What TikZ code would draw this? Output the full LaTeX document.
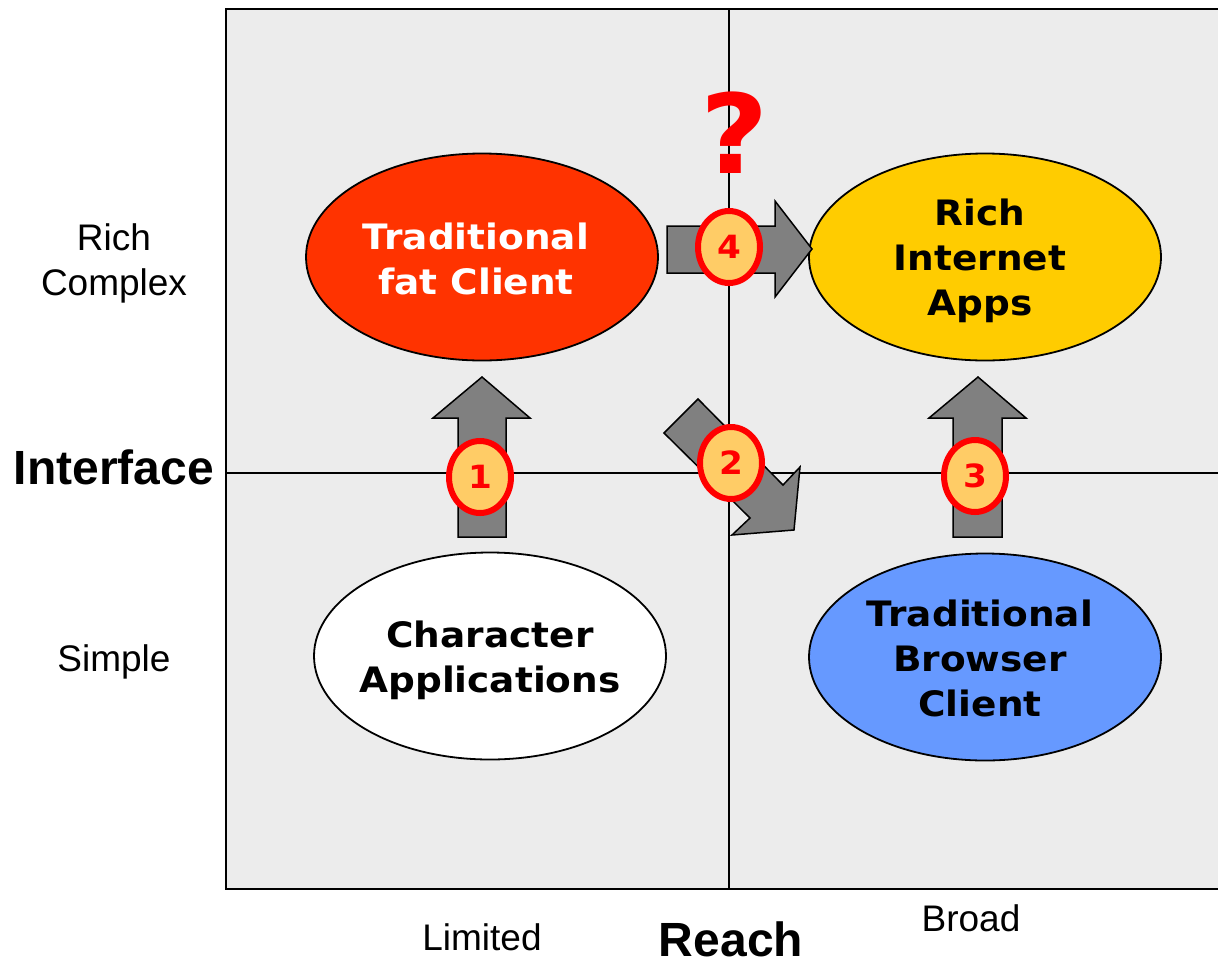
\documentclass[tikz,border=0pt]{standalone}
\usepackage{fontspec}
\setmainfont{Liberation Sans}
\newfontfamily\verd[FakeStretch=1.07]{DejaVu Sans}
\usetikzlibrary{shapes.geometric}
\definecolor{bgg}{HTML}{ECECEC}
\definecolor{fatred}{HTML}{FF3300}
\definecolor{riayel}{HTML}{FFCC00}
\definecolor{brblue}{HTML}{6699FF}
\definecolor{badgefill}{HTML}{FFCC66}
\definecolor{arrgray}{HTML}{808080}
\tikzset{
  bigell/.style={ellipse, draw=black, line width=1.8pt, minimum width=352pt, minimum height=207pt, inner sep=0pt},
  elltext/.style={inner sep=0pt, align=center, font=\verd\bfseries\fontsize{35}{45}\selectfont},
  badge/.style={ellipse, draw=red, fill=badgefill, line width=6pt, minimum width=62pt, minimum height=72pt, inner sep=0pt, text=red, font=\verd\bfseries\fontsize{32}{36}\selectfont},
  blockarrow/.style={fill=arrgray, draw=black, line width=1.5pt, line join=miter},
  axislbl/.style={font=\fontsize{37}{45}\selectfont, align=center, inner sep=0pt},
  axistitle/.style={font=\bfseries\fontsize{48}{50}\selectfont, inner sep=0pt},
  gridline/.style={draw=black, line width=2pt}
}
\begin{document}
\begin{tikzpicture}[x=1pt,y=-1pt]
\useasboundingbox (0,0) rectangle (1218,959);
% quadrant frame
\fill[bgg] (226,9) rectangle (1222,889);
\draw[gridline] (1222,9) -- (226,9) -- (226,889) -- (1222,889);
\coordinate (vtop) at (729,9);
\coordinate (vbot) at (729,889);
\coordinate (hleft) at (226,473);
\coordinate (hright) at (1222,473);
\draw[gridline] (vtop) -- (vbot);
\draw[gridline] (hleft) -- (hright);

% ellipses
\node[bigell, fill=fatred] (fat) at (482,257) {};
\node[bigell, fill=riayel] (ria) at (985,257) {};
\node[bigell, fill=white] (chr) at (490,656) {};
\node[bigell, fill=brblue] (tbc) at (985,657) {};
\node[elltext, text=white] (fattxt) at ([xshift=-6pt,yshift=-2pt]fat.center) {Traditional\\fat Client};
\node[elltext] (riatxt) at ([xshift=-5pt,yshift=-4pt]ria.center) {Rich\\Internet\\Apps};
\node[elltext] (chrtxt) at ([yshift=-4pt]chr.center) {Character\\Applications};
\node[elltext] (tbctxt) at ([xshift=-5pt,yshift=-1pt]tbc.center) {Traditional\\Browser\\Client};

% block arrows
\draw[blockarrow] (458,537) -- (458,418) -- (433,418) -- (482,377) -- (530,418) -- (506,418) -- (506,537) -- cycle;
\draw[blockarrow] (953,537) -- (953,418) -- (929,418) -- (978,377) -- (1026,418) -- (1002,418) -- (1002,537) -- cycle;
\draw[blockarrow] (667,226) -- (775,226) -- (775,201) -- (812,249) -- (775,297) -- (775,273) -- (667,273) -- cycle;
\draw[blockarrow] (664,433) -- (698,399) -- (783,485) -- (800,467) -- (794,530) -- (732,535) -- (750,518) -- cycle;

% badges
\node[badge] (b1) at (480,477) {1};
\node[badge] (b2) at (731,463) {2};
\node[badge] (b3) at (975,476) {3};
\node[badge] (b4) at (729,247) {4};

% question mark
\node[anchor=base, text=red, inner sep=0pt, font=\verd\bfseries\fontsize{110}{120}\selectfont] (q) at (735,173) {?};

% axis labels
\node[axislbl] (rich) at (114,263) {Rich\\Complex};
\node[axislbl] (simple) at (114,662) {Simple};
\node[axislbl] (limited) at (482,937) {Limited};
\node[axislbl] (broad) at (971,918) {Broad};
\node[axistitle, anchor=base] (iface) at (114,484) {Interface};
\node[axistitle, anchor=base] (reach) at (731,956) {Reach};
\end{tikzpicture}
\end{document}
